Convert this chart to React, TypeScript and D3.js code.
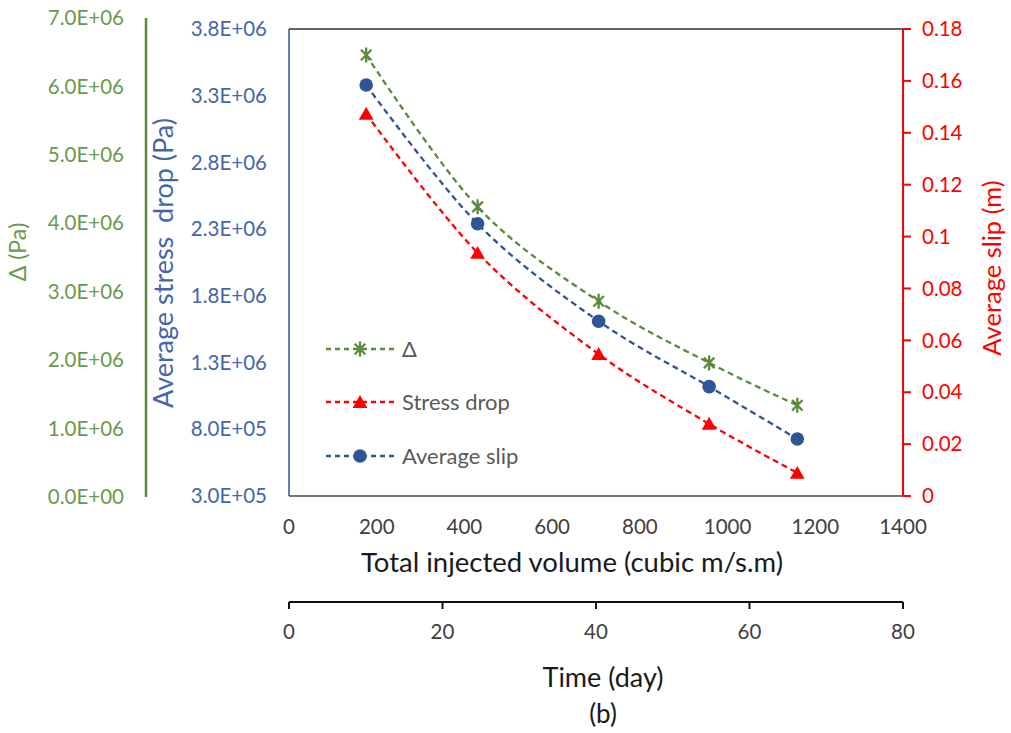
import React from "react";
import * as d3 from "d3";

// ---- data ----
const injectedVolume = [176, 430, 706, 958, 1159];
const deltaPa = [6.46e6, 4.24e6, 2.86e6, 1.96e6, 1.34e6];
const averageSlipSeries = [3.38e6, 2.34e6, 1.61e6, 1.12e6, 0.727e6]; // blue circles (left blue axis)
const stressDropSeries = [0.1473, 0.0937, 0.0547, 0.0278, 0.0089]; // red triangles (right red axis)

const greenTicks = [0, 1e6, 2e6, 3e6, 4e6, 5e6, 6e6, 7e6];
const blueTicks = [3e5, 8e5, 1.3e6, 1.8e6, 2.3e6, 2.8e6, 3.3e6, 3.8e6];
const redTicks = [0, 0.02, 0.04, 0.06, 0.08, 0.1, 0.12, 0.14, 0.16, 0.18];
const volumeTicks = [0, 200, 400, 600, 800, 1000, 1200, 1400];
const timeTicks = [0, 20, 40, 60, 80];

const legendLabels = ["Δ", "Stress drop", "Average slip"];

const W = 1011;
const H = 733;
const FONT = "Lato, 'Open Sans', sans-serif";

const GREEN = "#5B8A3C";
const GREEN_TXT = "#6A9A4B";
const BLUE = "#2F5597";
const BLUE_TXT = "#4566A8";
const RED = "#FF0000";

const TICK_FS = 20.5;

function sci(v: number): string {
  if (v === 0) return "0.0E+00";
  const e = Math.floor(Math.log10(v) + 1e-9);
  const m = v / Math.pow(10, e);
  return `${m.toFixed(1)}E+${String(e).padStart(2, "0")}`;
}

function starPath(cx: number, cy: number, s: number): string {
  const d = s * 0.7;
  return `M${cx - d},${cy - d}L${cx + d},${cy + d}M${cx - d},${cy + d}L${cx + d},${cy - d}M${cx},${cy - s}L${cx},${cy + s}`;
}

function triPath(cx: number, cy: number, s: number): string {
  return `M${cx},${cy - s}L${cx + s * 1.05},${cy + s * 0.85}L${cx - s * 1.05},${cy + s * 0.85}Z`;
}

export default function App() {
  const left = 289, right = 903, top = 29, bottom = 496;
  const x = d3.scaleLinear().domain([0, 1400]).range([left, right]);
  const xt = d3.scaleLinear().domain([0, 80]).range([left, right]);
  const yG = d3.scaleLinear().domain([0, 7e6]).range([497, 18]);
  const yB = d3.scaleLinear().domain([3e5, 3.8e6]).range([bottom, top]);
  const yR = d3.scaleLinear().domain([0, 0.18]).range([bottom, top]);

  const curve = d3.curveCardinal.tension(0);
  const lineG = d3.line<number>().x((_, i) => x(injectedVolume[i])).y((d) => yG(d)).curve(curve);
  const lineB = d3.line<number>().x((_, i) => x(injectedVolume[i])).y((d) => yB(d)).curve(curve);
  const lineR = d3.line<number>().x((_, i) => x(injectedVolume[i])).y((d) => yR(d)).curve(curve);

  const dash = "6 4";
  const timeAxisY = 602;
  const legendY = [349, 402, 456];
  const legendColors = [GREEN, RED, BLUE];

  return (
    <svg width={W} height={H} style={{ position: "absolute", left: 0, top: 0, background: "#fff" }} fontFamily={FONT}>
      <rect x={0} y={0} width={W} height={H} fill="#fff" />

      {/* plot frame */}
      <line x1={left} x2={right} y1={top} y2={top} stroke="#333" strokeWidth={1.3} />
      <line x1={left} x2={right} y1={bottom} y2={bottom} stroke="#444" strokeWidth={1.5} />
      <line x1={left} x2={left} y1={top} y2={bottom} stroke={BLUE} strokeWidth={1.5} />

      {/* green axis */}
      <line x1={146} x2={146} y1={18} y2={497} stroke={GREEN} strokeWidth={2.5} />
      {greenTicks.map((t) => (
        <text key={"g" + t} x={124} y={yG(t)} dy="0.35em" textAnchor="end" fontSize={TICK_FS} fill={GREEN_TXT}>
          {sci(t)}
        </text>
      ))}
      <text transform={`translate(26,252) rotate(-90)`} textAnchor="middle" fontSize={23} fill={GREEN_TXT}>
        Δ (Pa)
      </text>

      {/* blue axis */}
      {blueTicks.map((t) => (
        <text key={"b" + t} x={267} y={yB(t)} dy="0.35em" textAnchor="end" fontSize={TICK_FS} fill={BLUE_TXT}>
          {sci(t)}
        </text>
      ))}
      <text transform={`translate(173,263) rotate(-90)`} textAnchor="middle" fontSize={27} fill={BLUE_TXT} style={{ whiteSpace: "pre" }}>
        {"Average stress  drop (Pa)"}
      </text>

      {/* red axis */}
      <line x1={right} x2={right} y1={top} y2={bottom} stroke={RED} strokeWidth={2} />
      {redTicks.map((t) => (
        <g key={"r" + t}>
          <line x1={right} x2={right + 8} y1={yR(t)} y2={yR(t)} stroke={RED} strokeWidth={2} />
          <text x={922} y={yR(t)} dy="0.35em" textAnchor="start" fontSize={TICK_FS} fill={RED}>
            {String(t)}
          </text>
        </g>
      ))}
      <text transform={`translate(1001,268) rotate(-90)`} textAnchor="middle" fontSize={25.5} fill={RED}>
        Average slip (m)
      </text>

      {/* bottom volume axis */}
      {volumeTicks.map((t) => (
        <text key={"x" + t} x={x(t)} y={527} dy="0.35em" textAnchor="middle" fontSize={TICK_FS} fill="#404040">
          {t}
        </text>
      ))}
      <text x={572} y={562} dy="0.35em" textAnchor="middle" fontSize={27.5} fill="#1a1a1a">
        Total injected volume (cubic m/s.m)
      </text>

      {/* time axis */}
      <line x1={left} x2={right} y1={timeAxisY} y2={timeAxisY} stroke="#111" strokeWidth={2} />
      {timeTicks.map((t) => (
        <g key={"t" + t}>
          <line x1={xt(t)} x2={xt(t)} y1={timeAxisY} y2={timeAxisY + 7} stroke="#111" strokeWidth={2} />
          <text x={xt(t)} y={632} dy="0.35em" textAnchor="middle" fontSize={TICK_FS} fill="#404040">
            {t}
          </text>
        </g>
      ))}
      <text x={603} y={678} dy="0.35em" textAnchor="middle" fontSize={27} fill="#1a1a1a">
        Time (day)
      </text>
      <text x={603} y={714} dy="0.35em" textAnchor="middle" fontSize={26} fill="#1a1a1a">
        (b)
      </text>

      {/* series lines */}
      <path d={lineG(deltaPa) || ""} fill="none" stroke={GREEN} strokeWidth={2.3} strokeDasharray={dash} />
      <path d={lineB(averageSlipSeries) || ""} fill="none" stroke={BLUE} strokeWidth={2.3} strokeDasharray={dash} />
      <path d={lineR(stressDropSeries) || ""} fill="none" stroke={RED} strokeWidth={2.3} strokeDasharray={dash} />

      {/* markers */}
      {deltaPa.map((v, i) => (
        <path key={"gs" + i} d={starPath(x(injectedVolume[i]), yG(v), 7.5)} stroke={GREEN} strokeWidth={2.3} fill="none" />
      ))}
      {averageSlipSeries.map((v, i) => (
        <circle key={"bc" + i} cx={x(injectedVolume[i])} cy={yB(v)} r={6.8} fill={BLUE} />
      ))}
      {stressDropSeries.map((v, i) => (
        <path key={"rt" + i} d={triPath(x(injectedVolume[i]), yR(v), 7)} fill={RED} />
      ))}

      {/* legend */}
      {legendLabels.map((lab, i) => {
        const y = legendY[i];
        const c = legendColors[i];
        return (
          <g key={"lg" + i}>
            <line x1={326} x2={395} y1={y} y2={y} stroke={c} strokeWidth={2.3} strokeDasharray="5 4" />
            {i === 0 && <path d={starPath(360, y, 7.5)} stroke={c} strokeWidth={2.3} fill="none" />}
            {i === 1 && <path d={triPath(360, y, 7)} fill={c} />}
            {i === 2 && <circle cx={360} cy={y} r={6.8} fill={c} />}
            <text x={402} y={y} dy="0.35em" fontSize={22} fill="#595959">
              {lab}
            </text>
          </g>
        );
      })}
    </svg>
  );
}
